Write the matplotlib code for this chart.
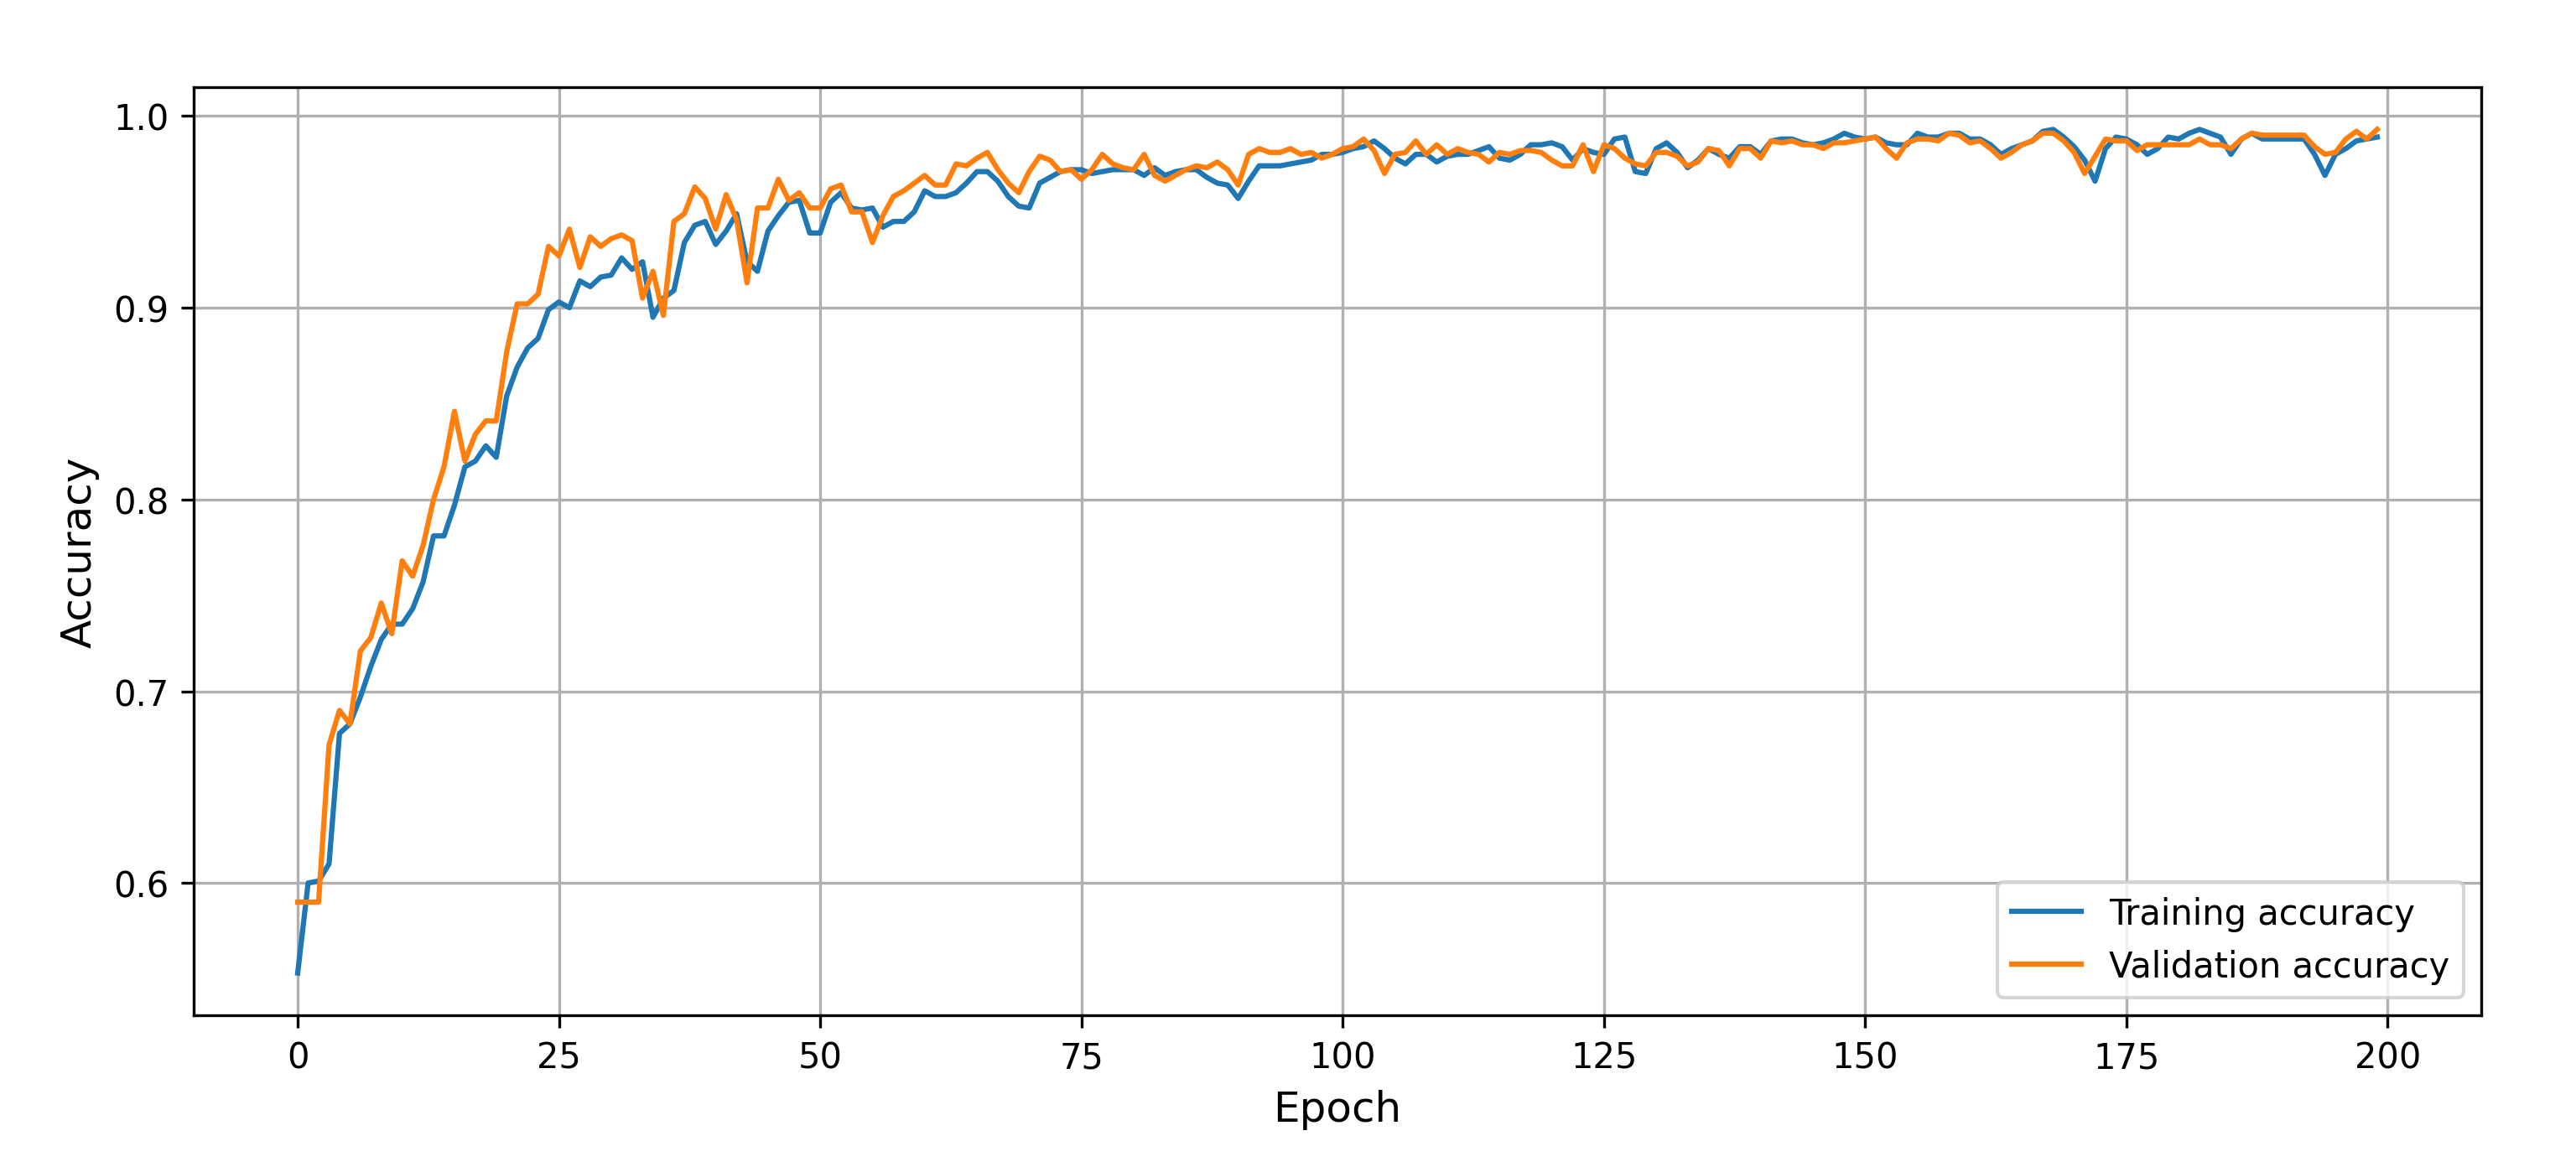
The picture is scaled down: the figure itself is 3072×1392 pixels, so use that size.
import matplotlib
matplotlib.use("Agg")
import matplotlib.pyplot as plt
import numpy as np

train_acc = [
    0.553, 0.600, 0.601, 0.610, 0.678, 0.683, 0.697, 0.713, 0.727, 0.735,
    0.735, 0.743, 0.757, 0.781, 0.781, 0.797, 0.817, 0.820, 0.828, 0.822,
    0.854, 0.869, 0.879, 0.884, 0.899, 0.903, 0.900, 0.914, 0.911, 0.916,
    0.917, 0.926, 0.920, 0.924, 0.895, 0.905, 0.909, 0.934, 0.943, 0.945,
    0.933, 0.940, 0.949, 0.924, 0.919, 0.940, 0.948, 0.955, 0.956, 0.939,
    0.939, 0.955, 0.960, 0.952, 0.951, 0.952, 0.942, 0.945, 0.945, 0.950,
    0.961, 0.958, 0.958, 0.960, 0.965, 0.971, 0.971, 0.966, 0.958, 0.953,
    0.952, 0.965, 0.968, 0.971, 0.972, 0.972, 0.970, 0.971, 0.972, 0.972,
    0.972, 0.969, 0.973, 0.969, 0.971, 0.972, 0.972, 0.968, 0.965, 0.964,
    0.957, 0.966, 0.974, 0.974, 0.974, 0.975, 0.976, 0.977, 0.980, 0.980,
    0.981, 0.983, 0.984, 0.987, 0.983, 0.978, 0.975, 0.980, 0.980, 0.976,
    0.979, 0.980, 0.980, 0.982, 0.984, 0.978, 0.977, 0.980, 0.985, 0.985,
    0.986, 0.984, 0.977, 0.983, 0.981, 0.980, 0.988, 0.989, 0.971, 0.970,
    0.983, 0.986, 0.981, 0.973, 0.977, 0.983, 0.980, 0.978, 0.984, 0.984,
    0.980, 0.987, 0.988, 0.988, 0.986, 0.985, 0.986, 0.988, 0.991, 0.989,
    0.988, 0.989, 0.986, 0.985, 0.985, 0.991, 0.989, 0.989, 0.991, 0.991,
    0.988, 0.988, 0.985, 0.980, 0.983, 0.985, 0.987, 0.992, 0.993, 0.989,
    0.984, 0.977, 0.966, 0.983, 0.989, 0.988, 0.985, 0.980, 0.983, 0.989,
    0.988, 0.991, 0.993, 0.991, 0.989, 0.980, 0.988, 0.991, 0.988, 0.988,
    0.988, 0.988, 0.988, 0.980, 0.969, 0.980, 0.983, 0.987, 0.988, 0.989,
]

val_acc = [
    0.590, 0.590, 0.590, 0.672, 0.690, 0.683, 0.721, 0.728, 0.746, 0.730,
    0.768, 0.760, 0.776, 0.800, 0.817, 0.846, 0.820, 0.834, 0.841, 0.841,
    0.877, 0.902, 0.902, 0.907, 0.932, 0.927, 0.941, 0.921, 0.937, 0.932,
    0.936, 0.938, 0.935, 0.905, 0.919, 0.896, 0.945, 0.949, 0.963, 0.957,
    0.941, 0.959, 0.946, 0.913, 0.952, 0.952, 0.967, 0.956, 0.960, 0.952,
    0.952, 0.962, 0.964, 0.950, 0.950, 0.934, 0.948, 0.958, 0.961, 0.965,
    0.969, 0.964, 0.964, 0.975, 0.974, 0.978, 0.981, 0.972, 0.965, 0.960,
    0.971, 0.979, 0.977, 0.971, 0.972, 0.967, 0.972, 0.980, 0.975, 0.973,
    0.972, 0.980, 0.969, 0.966, 0.969, 0.972, 0.974, 0.973, 0.976, 0.972,
    0.964, 0.980, 0.983, 0.981, 0.981, 0.983, 0.980, 0.981, 0.978, 0.980,
    0.983, 0.984, 0.988, 0.982, 0.970, 0.980, 0.981, 0.987, 0.980, 0.985,
    0.980, 0.983, 0.981, 0.980, 0.976, 0.981, 0.980, 0.982, 0.982, 0.981,
    0.977, 0.974, 0.974, 0.985, 0.971, 0.985, 0.983, 0.978, 0.975, 0.974,
    0.981, 0.981, 0.979, 0.974, 0.976, 0.983, 0.982, 0.974, 0.983, 0.983,
    0.978, 0.987, 0.986, 0.987, 0.985, 0.985, 0.983, 0.986, 0.986, 0.987,
    0.988, 0.989, 0.983, 0.978, 0.986, 0.988, 0.988, 0.987, 0.991, 0.990,
    0.986, 0.987, 0.983, 0.978, 0.981, 0.985, 0.987, 0.991, 0.991, 0.987,
    0.981, 0.970, 0.979, 0.988, 0.987, 0.987, 0.982, 0.985, 0.985, 0.985,
    0.985, 0.985, 0.988, 0.985, 0.985, 0.983, 0.988, 0.991, 0.990, 0.990,
    0.990, 0.990, 0.990, 0.984, 0.980, 0.981, 0.988, 0.992, 0.988, 0.993,
]

epochs = np.arange(len(train_acc))

fig = plt.figure(figsize=(10.24, 4.6433), dpi=300)
ax = fig.add_axes([0.0752, 0.1299, 0.888, 0.7947])
ax.plot(epochs, train_acc, color="#1f77b4", linewidth=1.5, label="Training accuracy")
ax.plot(epochs, val_acc, color="#ff7f0e", linewidth=1.5, label="Validation accuracy")
ax.set_xlabel("Epoch", fontsize=12)
ax.set_ylabel("Accuracy", fontsize=12)
ax.set_xticks([0, 25, 50, 75, 100, 125, 150, 175, 200])
ax.set_yticks([0.6, 0.7, 0.8, 0.9, 1.0])
ax.tick_params(labelsize=10)
ax.grid(True)
ax.legend(loc="lower right", fontsize=10)
fig.savefig("out.png", dpi=300)
